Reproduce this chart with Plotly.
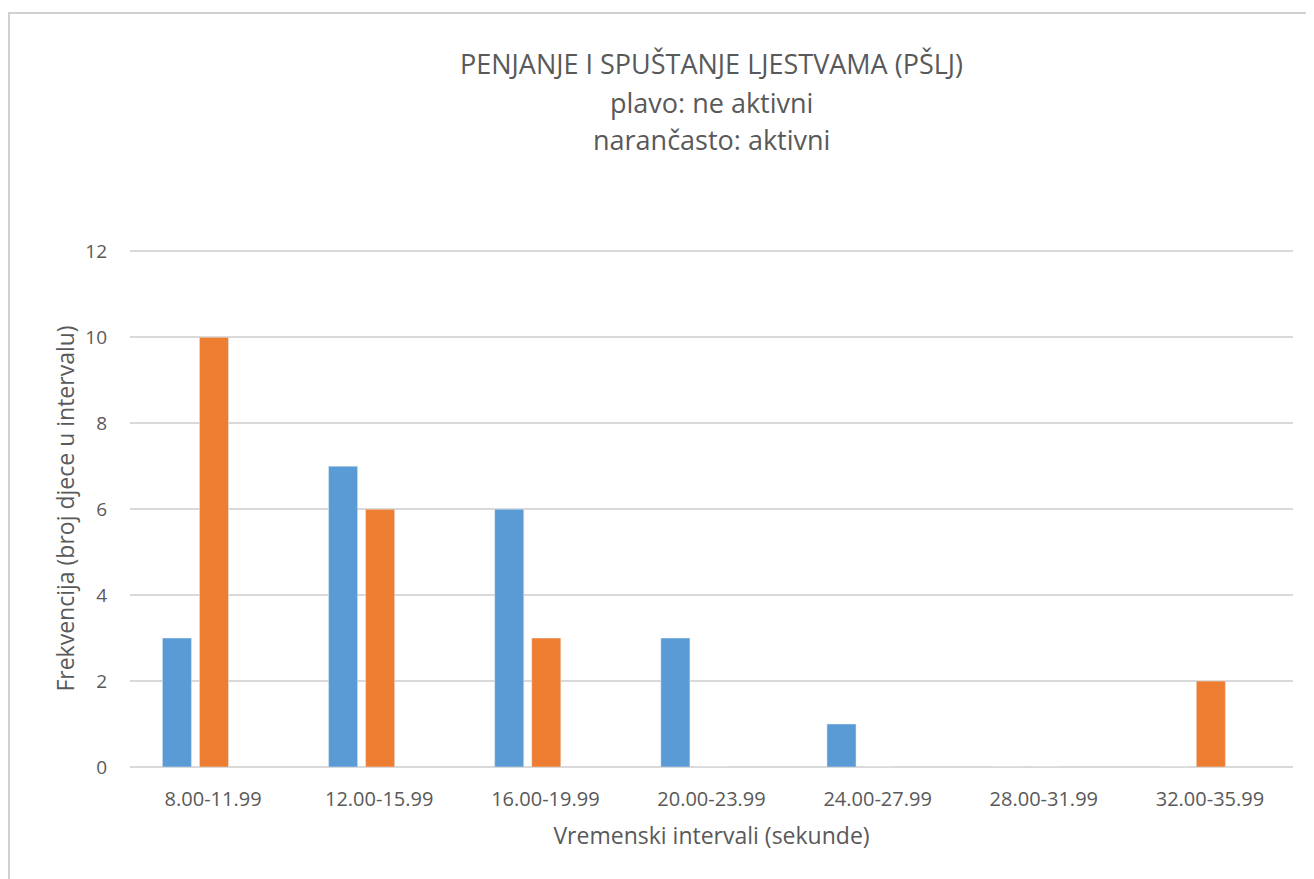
import plotly.graph_objects as go

categories = ["8.00-11.99", "12.00-15.99", "16.00-19.99", "20.00-23.99",
              "24.00-27.99", "28.00-31.99", "32.00-35.99"]
ne_aktivni = [3, 7, 6, 3, 1, 0, 0]
aktivni = [10, 6, 3, 0, 0, 0, 2]
y_ticks = [0, 2, 4, 6, 8, 10, 12]
title_lines = ["PENJANJE I SPUŠTANJE LJESTVAMA (PŠLJ)",
               "plavo: ne aktivni",
               "narančasto: aktivni"]

FONT = "Open Sans"
TXT = "#595959"

# page has an 8px body margin; work in page pixels and convert
OFF = 8
W, H = 1314 - OFF, 879 - OFF
L, R, T, B = 130 - OFF, 1314 - 1293, 250 - OFF, 879 - 767
pw, ph = W - L - R, H - T - B

def px_x(p):
    return (p - OFF - L) / pw

def px_y(p):
    return (H - B - (p - OFF)) / ph

fig = go.Figure()
fig.add_trace(go.Bar(x=categories, y=ne_aktivni, name="ne aktivni",
                     marker_color="#5B9BD5", width=0.175, offset=-0.305))
fig.add_trace(go.Bar(x=categories, y=aktivni, name="aktivni",
                     marker_color="#ED7D31", width=0.175, offset=-0.082))

title_y = [64, 102, 140]
annotations = [dict(text=t, x=0.5, xref="paper", xanchor="center",
                    y=px_y(yy), yref="paper", yanchor="middle",
                    showarrow=False, font=dict(family=FONT, size=27, color=TXT))
               for t, yy in zip(title_lines, title_y)]

fig.update_layout(
    width=W, height=H,
    margin=dict(l=L, r=R, t=T, b=B),
    paper_bgcolor="white", plot_bgcolor="white",
    showlegend=False,
    font=dict(family=FONT, color=TXT),
    barmode="group",
    annotations=annotations,
    xaxis=dict(
        showgrid=False, showline=False, ticks="", ticklabelstandoff=18,
        tickfont=dict(family=FONT, size=20, color=TXT),
        title=dict(text="Vremenski intervali (sekunde)",
                   font=dict(family=FONT, size=23, color=TXT), standoff=16),
    ),
    yaxis=dict(
        range=[0, 12.03], tickvals=y_ticks, showgrid=True, gridcolor="#D9D9D9",
        gridwidth=1.5, zeroline=True, zerolinecolor="#D9D9D9", zerolinewidth=1.5,
        showline=False, ticks="", ticklabelstandoff=22,
        tickfont=dict(family=FONT, size=19, color=TXT),
        title=dict(text="Frekvencija (broj djece u intervalu)",
                   font=dict(family=FONT, size=23, color=TXT), standoff=4),
    ),
    shapes=[dict(type="rect", xref="paper", yref="paper",
                 x0=px_x(9), x1=px_x(1308), y0=px_y(940), y1=px_y(13),
                 line=dict(color="#D0D0D0", width=2), fillcolor="rgba(0,0,0,0)",
                 layer="below")],
)

fig.write_html("out.html")
